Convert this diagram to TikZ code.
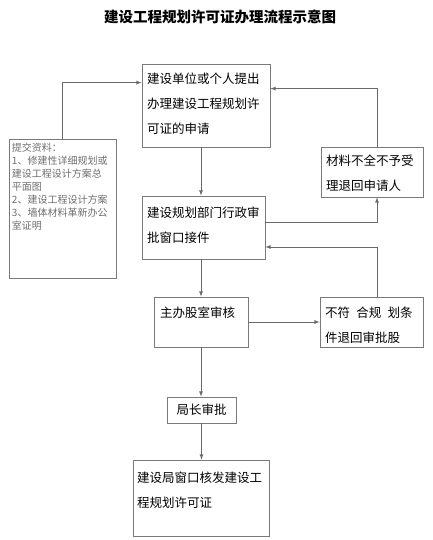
\documentclass[tikz,border=0pt]{standalone}
\usepackage{fontspec}
\newfontfamily\cjk{Noto Sans CJK SC}
\usetikzlibrary{arrows}
\definecolor{linegray}{HTML}{6A6A6A}
\definecolor{boxgray}{HTML}{7A7A7A}
\definecolor{notegray}{HTML}{6E6E6E}
% text block that starts at the top of its box
\newcommand{\boxtext}[4][10pt]{\parbox[c][#3][t]{#2}{\vspace*{#1}#4}}
\begin{document}
\begin{tikzpicture}[
		x=1pt,y=-1pt,
		font=\cjk,
		every node/.style={
				font=\cjk\fontsize{12.5}{25}\selectfont,
			},
		box/.style={draw=boxgray, line width=0.8pt, inner xsep=5pt, inner ysep=0pt},
		flow/.style={draw=linegray, line width=0.8pt, -latex},]
	\useasboundingbox (0,0) rectangle (433,540);
	\node[font=\cjk\bfseries\fontsize{14.5}{16}\selectfont] (title) at (220,17) {建设工程规划许可证办理流程示意图};

	\node[box, inner xsep=3pt, text=notegray, font=\cjk\fontsize{10}{13}\selectfont] (note) at (62.5,208.5)
		{\boxtext[4.5pt]{101pt}{139pt}{提交资料：\\1、修建性详细规划或\\建设工程设计方案总\\平面图\\2、建设工程设计方案\\3、墙体材料革新办公\\室证明}};
	\node[box] (apply) at (206,105.5) {\boxtext[9pt]{118pt}{83pt}{建设单位或个人提出\\办理建设工程规划许\\可证的申请}};
	\node[box] (reject) at (372,172) {\boxtext[8pt]{92pt}{50pt}{材料不全不予受\\理退回申请人}};
	\node[box] (window) at (203.5,227.5) {\boxtext[11pt]{113pt}{63pt}{建设规划部门行政审\\批窗口接件}};
	\node[box, inner xsep=6pt] (review) at (201,322) {\boxtext[10pt]{82pt}{50pt}{主办股室审核}};
	\node[box] (refuse) at (371.5,322) {\boxtext[10pt]{93pt}{50pt}{不符\hspace{0.5em}合规\hspace{0.5em}划条\\件退回审批股}};
	\node[box, minimum width=69pt, minimum height=26pt] (sign) at (201.5,410) {局长审批};
	\node[box, inner xsep=4pt] (issue) at (201,498) {\boxtext[12pt]{128pt}{76pt}{建设局窗口核发建设工\\程规划许可证}};

	\coordinate (rx) at (377,0);
	% feedback loops on the right
	\draw[flow] (note.north) |- ([yshift=-19pt]apply.north west);
	\draw[flow] (reject.north -| rx) |- ([yshift=-25pt]apply.north east);
	\draw[flow] ([yshift=5.5pt]window.east) -| (reject.south -| rx);
	\draw[flow] (refuse.north -| rx) |- ([yshift=-19.5pt]window.east);
	% main line
	\draw[flow] (apply.south -| review.north) -- (window.north -| review.north);
	\draw[flow] (window.south -| review.north) -- (review.north);
	\draw[flow] (review.east) -- (refuse.west);
	\foreach \a/\b in {review/sign, sign/issue} {
			\draw[flow] (\a.south) -- (\a.south |- \b.north);
		}
\end{tikzpicture}
\end{document}
